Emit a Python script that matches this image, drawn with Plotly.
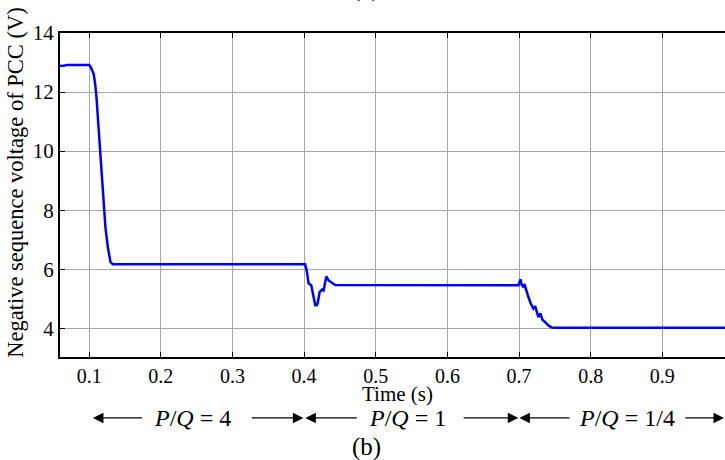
import plotly.graph_objects as go

# ---- data ----
time_s = [0.0593, 0.062, 0.066, 0.07, 0.1, 0.1008, 0.1035, 0.1064, 0.1085, 0.1102,
          0.1134, 0.1167, 0.1195, 0.1227, 0.126, 0.1297, 0.133,
          0.4015, 0.404, 0.4063, 0.41, 0.4133, 0.4156, 0.4175, 0.4189, 0.4217,
          0.425, 0.4272, 0.431, 0.4342, 0.4389, 0.4435,
          0.6992, 0.702, 0.7039, 0.7055, 0.7076, 0.71, 0.7131, 0.7164, 0.72,
          0.7225, 0.7248, 0.727, 0.7299, 0.7327, 0.7364, 0.741, 0.7457, 0.7503,
          0.9875]
v_neg = [12.90, 12.88, 12.90, 12.92, 12.92, 12.90, 12.78, 12.60, 12.25, 11.83,
         10.70, 9.58, 8.45, 7.43, 6.76, 6.25, 6.17,
         6.17, 5.91, 5.52, 5.46, 5.06, 4.78, 4.78, 4.84, 5.23,
         5.31, 5.28, 5.76, 5.62, 5.53, 5.47,
         5.46, 5.66, 5.46, 5.42, 5.50, 5.34, 5.06, 4.84, 4.67,
         4.75, 4.55, 4.38, 4.51, 4.29, 4.21, 4.10, 4.03, 4.02,
         4.02]

x_ticks = [0.1, 0.2, 0.3, 0.4, 0.5, 0.6, 0.7, 0.8, 0.9]
x_tick_text = ["0.1", "0.2", "0.3", "0.4", "0.5", "0.6", "0.7", "0.8", "0.9"]
y_ticks = [4, 6, 8, 10, 12, 14]
x_range = [0.0593, 0.9875]
y_range = [3.03, 14]

# operating regions: label, arrow tips (start/end), label centre, arrow tails
region_labels = ["<i>P</i>/<i>Q</i> = 4", "<i>P</i>/<i>Q</i> = 1", "<i>P</i>/<i>Q</i> = 1/4"]
region_start = [0.1053, 0.4017, 0.7005]
region_end = [0.399, 0.699, 1.006]
region_text_x = [0.2448, 0.545, 0.8508]
region_tail_left = [0.1757, 0.4756, 0.7726]
region_tail_right = [0.325, 0.6206, 0.9302]

FONT = "Liberation Serif"
PLOT_W = 665.0


def px(t):
    return (t - x_range[0]) / (x_range[1] - x_range[0])


fig = go.Figure()
fig.add_trace(go.Scatter(x=time_s, y=v_neg, mode="lines",
                         line=dict(color="#0000ff", width=2.5), showlegend=False))

annotations = []
row_y = -0.188
for lab, s, e, c, tl, tr in zip(region_labels, region_start, region_end,
                                region_text_x, region_tail_left, region_tail_right):
    annotations.append(dict(text=lab, x=px(c), y=row_y, xref="paper", yref="paper",
                            xanchor="center", yanchor="middle",
                            showarrow=False, font=dict(family=FONT, size=24, color="black")))
    for tip, tail in ((s, tl), (e, tr)):
        dxpix = (px(tail) - px(tip)) * PLOT_W
        annotations.append(dict(text="", x=px(tip), y=row_y, xref="paper", yref="paper",
                                ax=dxpix, ay=0, axref="pixel", ayref="pixel",
                                showarrow=True, arrowhead=2, arrowsize=1.5,
                                arrowwidth=1.4, arrowcolor="black", standoff=0))

annotations += [
    dict(text="Negative sequence voltage of PCC (V)", x=-0.068, y=0.54,
         xref="paper", yref="paper", xanchor="center", yanchor="middle",
         textangle=-90, showarrow=False,
         font=dict(family=FONT, size=22.5, color="black")),
    dict(text="Time (s)", x=0.507, y=-0.113, xref="paper", yref="paper",
         xanchor="center", yanchor="middle",
         showarrow=False, font=dict(family=FONT, size=21, color="black")),
    dict(text="(b)", x=0.4606, y=-0.2776, xref="paper", yref="paper",
         xanchor="center", yanchor="middle",
         showarrow=False, font=dict(family=FONT, size=25, color="black")),
    dict(text="(a)", x=0.4606, y=1.091, xref="paper", yref="paper",
         xanchor="center", yanchor="bottom",
         showarrow=False, font=dict(family=FONT, size=25, color="black")),
]

fig.update_layout(
    width=725, height=460,
    margin=dict(l=60, r=0, t=33, b=103),
    paper_bgcolor="white", plot_bgcolor="white",
    font=dict(family=FONT, size=21, color="black"),
    annotations=annotations,
    xaxis=dict(range=x_range, tickvals=x_ticks, ticktext=x_tick_text,
               showgrid=True, gridcolor="#a6a6a6", gridwidth=1,
               showline=True, linecolor="black", linewidth=2, mirror="ticks",
               ticks="inside", ticklen=5, tickcolor="black", tickwidth=1,
               zeroline=False, tickfont=dict(family=FONT, size=20)),
    yaxis=dict(range=y_range, tickvals=y_ticks,
               showgrid=True, gridcolor="#a6a6a6", gridwidth=1,
               showline=True, linecolor="black", linewidth=2, mirror=False,
               ticks="inside", ticklen=5, tickcolor="black", tickwidth=1,
               zeroline=False, tickfont=dict(family=FONT, size=21)),
)

fig.write_html("out.html")
